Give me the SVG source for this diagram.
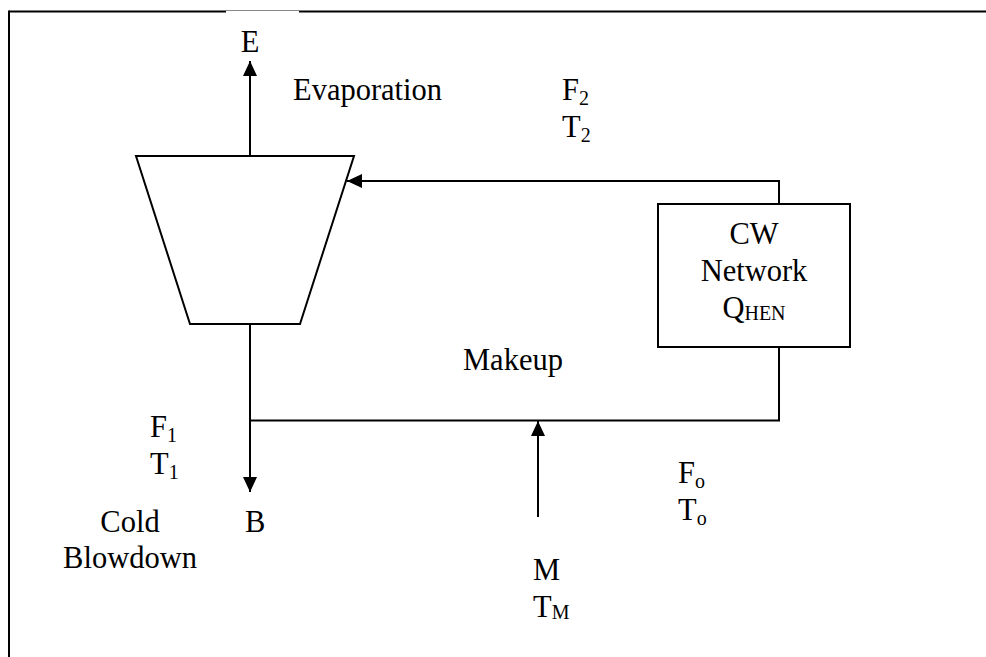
<svg xmlns="http://www.w3.org/2000/svg" width="986" height="657" viewBox="0 0 986 657">
  <style>
    .ln { fill: none; stroke: #000; stroke-width: 2; }
    .shape { fill: #fff; stroke: #000; stroke-width: 2; }
    text { font-family: "Liberation Serif", "Times New Roman", serif; font-size: 30.5px; fill: #000; }
    .sub { font-size: 20px; }
  </style>
  <defs>
    <marker id="arrow" viewBox="0 0 15 14" refX="15" refY="7" markerWidth="15" markerHeight="14" markerUnits="userSpaceOnUse" orient="auto">
      <path d="M0,0 L15,7 L0,14 Z" fill="#000"/>
    </marker>
  </defs>

  <rect width="986" height="657" fill="#fff"/>

  <!-- frame: top and left edges -->
  <g id="frame">
    <line x1="9" y1="11.5" x2="226" y2="11.5" class="ln"/>
    <line x1="226" y1="10.5" x2="299" y2="10.5" stroke="#888" stroke-width="1"/>
    <line x1="299" y1="11.5" x2="986" y2="11.5" class="ln"/>
    <line x1="9" y1="10.5" x2="9" y2="657" class="ln"/>
  </g>

  <!-- cooling tower -->
  <g id="tower">
    <polygon points="136,156 354,156 300,324 190,324" class="shape"/>
  </g>

  <!-- CW network -->
  <g id="cw-network">
    <rect x="658" y="204" width="192" height="143" class="shape"/>
    <text x="754" y="244" text-anchor="middle">CW</text>
    <text x="754" y="281" text-anchor="middle">Network</text>
    <text x="754" y="318" text-anchor="middle">Q<tspan class="sub" dy="2">HEN</tspan></text>
  </g>

  <!-- connectors -->
  <g id="connectors">
    <line x1="250" y1="156" x2="250" y2="61" class="ln" marker-end="url(#arrow)"/>
    <polyline points="779,204 779,181 347,181" class="ln" marker-end="url(#arrow)"/>
    <polyline points="779,347 779,420.5 250,420.5" class="ln"/>
    <line x1="250" y1="324" x2="250" y2="492" class="ln" marker-end="url(#arrow)"/>
    <line x1="538" y1="517" x2="538" y2="421" class="ln" marker-end="url(#arrow)"/>
  </g>

  <!-- stream labels -->
  <g id="labels">
    <text x="250" y="52" text-anchor="middle">E</text>
    <text x="293" y="100">Evaporation</text>
    <text x="562" y="100">F<tspan class="sub" dy="5">2</tspan></text>
    <text x="562" y="137">T<tspan class="sub" dy="5">2</tspan></text>
    <text x="463" y="370">Makeup</text>
    <text x="150" y="437">F<tspan class="sub" dy="5">1</tspan></text>
    <text x="150" y="474">T<tspan class="sub" dy="5">1</tspan></text>
    <text x="130" y="532" text-anchor="middle">Cold</text>
    <text x="130" y="568" text-anchor="middle">Blowdown</text>
    <text x="245" y="532">B</text>
    <text x="678" y="483">F<tspan class="sub" dy="5">o</tspan></text>
    <text x="678" y="520">T<tspan class="sub" dy="5">o</tspan></text>
    <text x="533" y="580">M</text>
    <text x="533" y="617">T<tspan class="sub" dy="2">M</tspan></text>
  </g>
</svg>
